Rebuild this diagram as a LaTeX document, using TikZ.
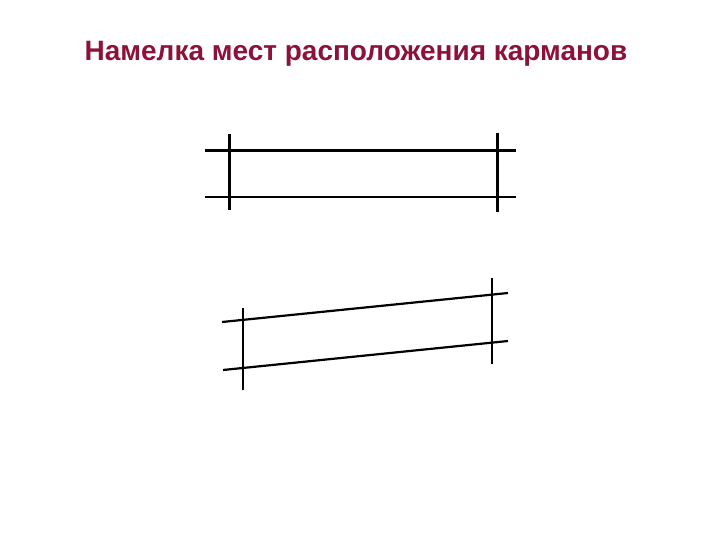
\documentclass[tikz,border=0pt]{standalone}
\usepackage{fontspec}
\setmainfont{Liberation Sans}
\definecolor{titlered}{HTML}{8C1239}
\begin{document}
\begin{tikzpicture}[x=1pt,y=-1pt,
  thickline/.style={line width=3pt},
  thinline/.style={line width=2.2pt}]
\useasboundingbox (0,0) rectangle (720,540);
\node[text=titlered,font=\bfseries\fontsize{28}{32}\selectfont] (title) at (356,54) {Намелка мест расположения карманов};
% upper figure
\draw[thickline] (205,150.5) -- (516,150.5);
\draw[thinline] (205,197) -- (516,197);
\draw[thickline] (229,134) -- (229,210);
\draw[thickline] (497,133) -- (497,212);
% lower figure
\draw[thinline] (222,322) -- (508,293);
\draw[thinline] (223,370) -- (508,341);
\draw[thinline] (243,308) -- (243,390);
\draw[thinline] (492,278) -- (492,364);
\end{tikzpicture}
\end{document}
